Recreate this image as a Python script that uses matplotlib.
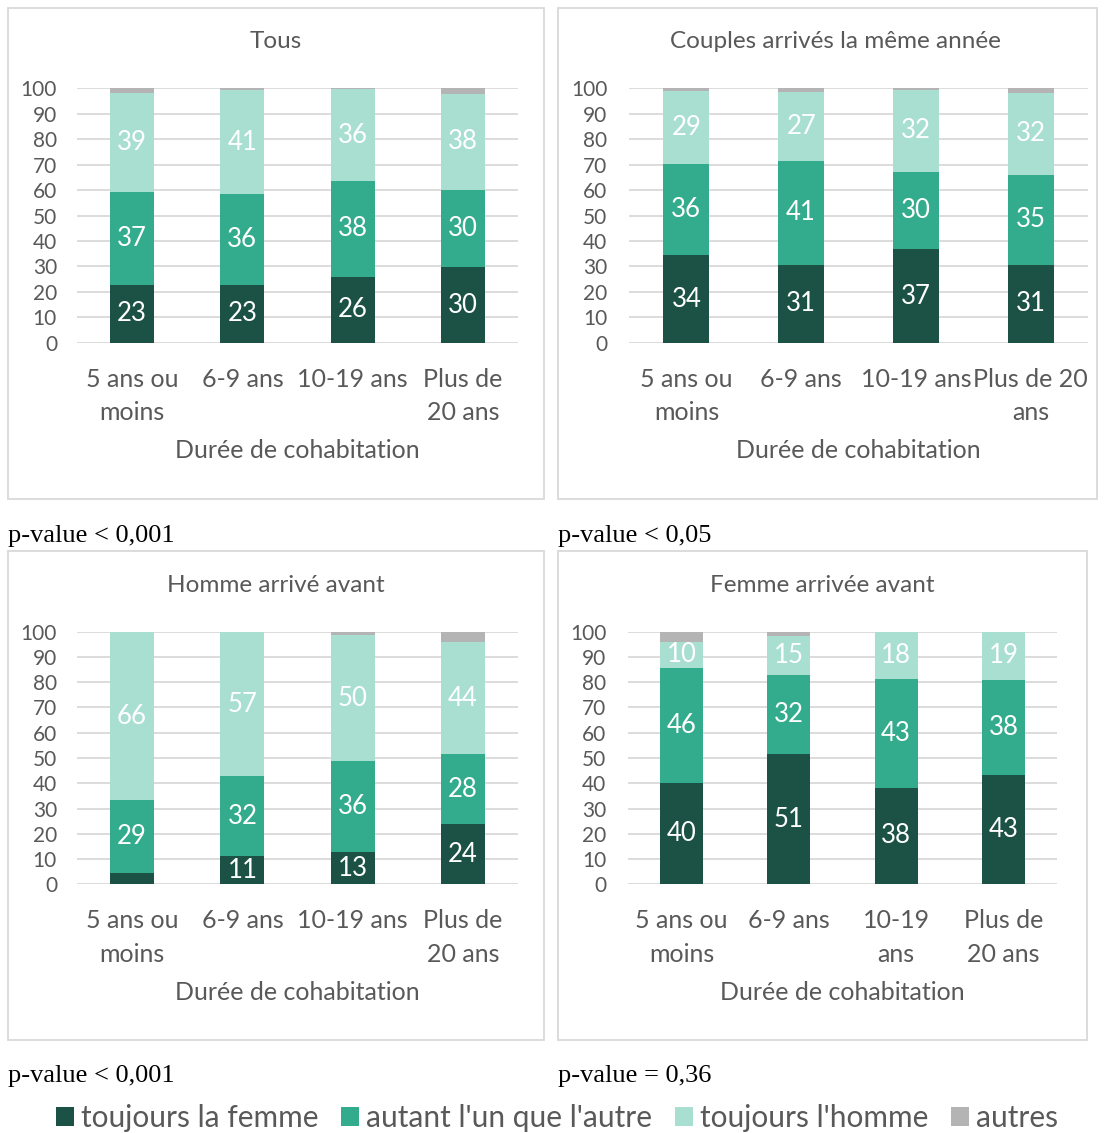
import matplotlib
matplotlib.use("Agg")
import matplotlib.pyplot as plt
from matplotlib.patches import Rectangle

plt.rcParams['font.family'] = ['Lato', 'DejaVu Sans']

# ---------------- data ----------------
categories = ["5 ans ou moins", "6-9 ans", "10-19 ans", "Plus de 20 ans"]
series_names = ["toujours la femme", "autant l'un que l'autre", "toujours l'homme", "autres"]

titles = ["Tous", "Couples arrivés la même année", "Homme arrivé avant", "Femme arrivée avant"]
pvalues = ["p-value < 0,001", "p-value < 0,05", "p-value < 0,001", "p-value = 0,36"]
xlabel_text = "Durée de cohabitation"

tous_femme = [22.6, 22.6, 25.8, 29.6]
tous_autant = [36.6, 35.7, 37.8, 30.4]
tous_homme = [39.0, 41.0, 36.0, 37.8]
tous_autres = [1.8, 0.7, 0.4, 2.2]

meme_femme = [34.3, 30.7, 36.7, 30.7]
meme_autant = [35.8, 40.7, 30.4, 35.4]
meme_homme = [29.0, 27.0, 32.4, 32.2]
meme_autres = [0.9, 1.6, 0.5, 1.7]

homme_femme = [4.5, 11.1, 12.8, 23.7]
homme_autant = [28.8, 31.8, 36.1, 27.8]
homme_homme = [66.4, 56.8, 49.6, 44.4]
homme_autres = [0.3, 0.3, 1.5, 4.1]

femme_femme = [40.0, 51.4, 38.3, 43.4]
femme_autant = [45.8, 31.6, 43.1, 37.6]
femme_homme = [10.2, 15.2, 18.4, 18.9]
femme_autres = [4.0, 1.8, 0.2, 0.1]

ticks_tous = ["5 ans ou\nmoins", "6-9 ans", "10-19 ans", "Plus de\n20 ans"]
ticks_meme = ["5 ans ou\nmoins", "6-9 ans", "10-19 ans", "Plus de 20\nans"]
ticks_homme = ["5 ans ou\nmoins", "6-9 ans", "10-19 ans", "Plus de\n20 ans"]
ticks_femme = ["5 ans ou\nmoins", "6-9 ans", "10-19\nans", "Plus de\n20 ans"]

# ---------------- style ----------------
colors = ["#1b5245", "#33ab8d", "#a8dfd1", "#b4b4b4"]
grey_text = "#595959"
grid_col = "#d9d9d9"

W, H = 1105, 1133
fig = plt.figure(figsize=(W / 100, H / 100), dpi=100)
fig.patch.set_facecolor("white")


def frect(x0, x1, ytop, ybot):
    return [x0 / W, 1 - ybot / H, (x1 - x0) / W, (ybot - ytop) / H]


def fx(x):
    return x / W


def fy(y):
    return 1 - y / H


panels = [
    dict(data=[tous_femme, tous_autant, tous_homme, tous_autres], ticks=ticks_tous,
         ax=(77, 518, 88.3, 342.7), box=(8, 8, 544, 499), title=(276, 42),
         xlab=451, pv=(8, 536), ypad=14.4),
    dict(data=[meme_femme, meme_autant, meme_homme, meme_autres], ticks=ticks_meme,
         ax=(629, 1088, 88.3, 342.7), box=(558, 8, 1097, 499), title=(835, 42),
         xlab=451, pv=(558, 536), ypad=15.5),
    dict(data=[homme_femme, homme_autant, homme_homme, homme_autres], ticks=ticks_homme,
         ax=(77, 518, 631.7, 884.3), box=(8, 551, 544, 1040), title=(276, 585),
         xlab=992, pv=(8, 1076), ypad=14.4),
    dict(data=[femme_femme, femme_autant, femme_homme, femme_autres], ticks=ticks_femme,
         ax=(628, 1057, 631.7, 884.3), box=(558, 551, 1087, 1040), title=(822, 585),
         xlab=992, pv=(558, 1076), ypad=15.5),
]

legend_handles = None
for i, p in enumerate(panels):
    bx0, by0, bx1, by1 = p["box"]
    fig.add_artist(Rectangle((fx(bx0), fy(by1)), (bx1 - bx0) / W, (by1 - by0) / H,
                             transform=fig.transFigure, fill=False,
                             edgecolor=grid_col, linewidth=1.3))
    x0, x1, yt, yb = p["ax"]
    ax = fig.add_axes(frect(x0, x1, yt, yb))
    xpos = list(range(len(categories)))
    bottom = [0.0] * len(categories)
    handles = []
    for s, vals in enumerate(p["data"]):
        bars = ax.bar(xpos, vals, width=0.4, bottom=bottom, color=colors[s],
                      label=series_names[s], zorder=3, linewidth=0)
        handles.append(bars)
        if s < 3:
            labs = [f"{round(v)}" if v >= 5 else "" for v in vals]
            ax.bar_label(bars, labels=labs, label_type="center", color="white",
                         fontsize=18.5)
        bottom = [b + v for b, v in zip(bottom, vals)]
    if legend_handles is None:
        legend_handles = handles
    ax.set_xlim(-0.5, len(categories) - 0.5)
    ax.set_ylim(0, 100)
    ax.set_yticks(range(0, 101, 10))
    ax.yaxis.grid(True, color=grid_col, linewidth=1.3, zorder=0)
    ax.set_axisbelow(True)
    for sp in ax.spines.values():
        sp.set_visible(False)
    ax.tick_params(axis="y", length=0, pad=p["ypad"], labelsize=15, labelcolor=grey_text)
    ax.tick_params(axis="x", length=0, pad=18, labelsize=18, labelcolor=grey_text)
    ax.set_xticks(xpos)
    ax.set_xticklabels(p["ticks"])
    for t in ax.get_xticklabels():
        t.set_linespacing(1.55)
    ax.patch.set_alpha(0)

    tx, ty = p["title"]
    fig.text(fx(tx), fy(ty), titles[i], ha="center", va="center", fontsize=17.5,
             color=grey_text)
    fig.text(fx((x0 + x1) / 2), fy(p["xlab"]), xlabel_text, ha="center", va="center",
             fontsize=18, color=grey_text)
    px, py = p["pv"]
    fig.text(fx(px), fy(py), pvalues[i], ha="left", va="center", fontsize=19,
             color="black", family="Liberation Serif")

leg = fig.legend(handles=legend_handles, labels=series_names, loc="center",
                 bbox_to_anchor=(fx(557), fy(1118)), ncol=4, frameon=False,
                 fontsize=21.5, handlelength=0.6, handleheight=0.6,
                 handletextpad=0.25, columnspacing=0.75, labelcolor=grey_text)

fig.savefig("out.png", dpi=100, facecolor="white")
